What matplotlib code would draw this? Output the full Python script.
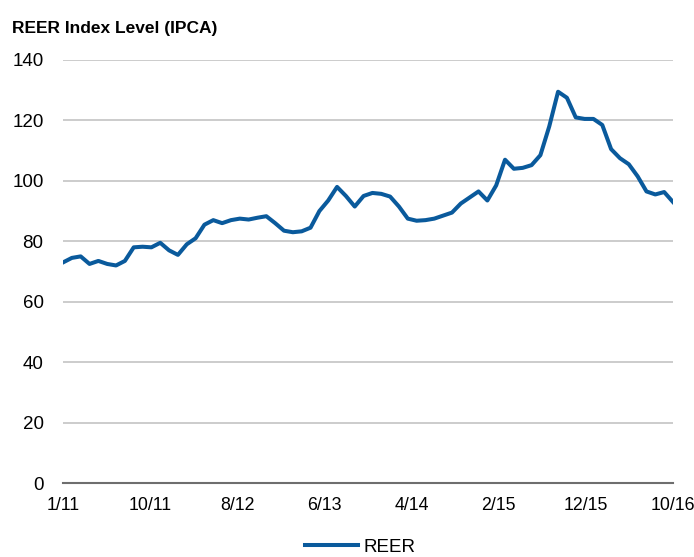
import numpy as np
import matplotlib
matplotlib.use("Agg")
import matplotlib.pyplot as plt
from matplotlib import font_manager

reer = [73, 74.5, 75, 72.5, 73.5, 72.5, 72, 73.5, 78, 78.2,
        78, 79.5, 77, 75.5, 79, 81, 85.5, 87, 86, 87,
        87.5, 87.2, 87.8, 88.3, 86, 83.5, 83, 83.3, 84.5, 90,
        93.5, 98, 95, 91.5, 95, 96, 95.7, 94.8, 91.5, 87.5,
        86.8, 87, 87.5, 88.5, 89.5, 92.5, 94.5, 96.5, 93.5, 98.5,
        107, 104, 104.3, 105.2, 108.5, 118, 129.5, 127.5, 121, 120.5,
        120.5, 118.5, 110.5, 107.5, 105.5, 101.5, 96.5, 95.5, 96.3, 93]
tick_labels = ["1/11", "10/11", "8/12", "6/13", "4/14", "2/15", "12/15", "10/16"]
y_ticks = [0, 20, 40, 60, 80, 100, 120, 140]
title = "REER Index Level (IPCA)"
series_name = "REER"

names = {f.name for f in font_manager.fontManager.ttflist}
fam = "Liberation Sans Narrow" if "Liberation Sans Narrow" in names else "Liberation Sans"
plt.rcParams['font.family'] = [fam, 'DejaVu Sans']

fig = plt.figure(figsize=(6.94, 5.57), dpi=100)
ax = fig.add_axes([63/694, 1-483/557, 610/694, 423/557])
x = np.arange(len(reer))
ax.plot(x, reer, color='#0a5a9c', lw=2.9, solid_joinstyle='round', label=series_name, zorder=3)
ax.set_xlim(0, len(reer)-1)
ax.set_ylim(0, 140)
ax.set_yticks(y_ticks)
ax.set_xticks(np.linspace(0, len(reer)-1, len(tick_labels)))
ax.set_xticklabels(tick_labels)
ax.tick_params(axis='both', length=0, labelsize=13.5, colors='black')
ax.tick_params(axis='x', labelsize=12.8, pad=10)
ax.tick_params(axis='y', pad=14)
for s in ['left', 'right', 'top']:
    ax.spines[s].set_visible(False)
ax.spines['bottom'].set_color('#6e6e6e')
ax.spines['bottom'].set_linewidth(1.5)
ax.grid(axis='y', color='#c8c8c8', lw=1.3)
ax.set_axisbelow(True)
fig.text(12/694, 1-28/557, title, fontsize=12.5, fontweight='bold', va='center', ha='left')
leg = fig.legend(loc='center', bbox_to_anchor=(360/694, 1-547/557), frameon=False,
                 fontsize=13.5, handlelength=2.85, handletextpad=0.25)
fig.savefig("out.png", dpi=100)
